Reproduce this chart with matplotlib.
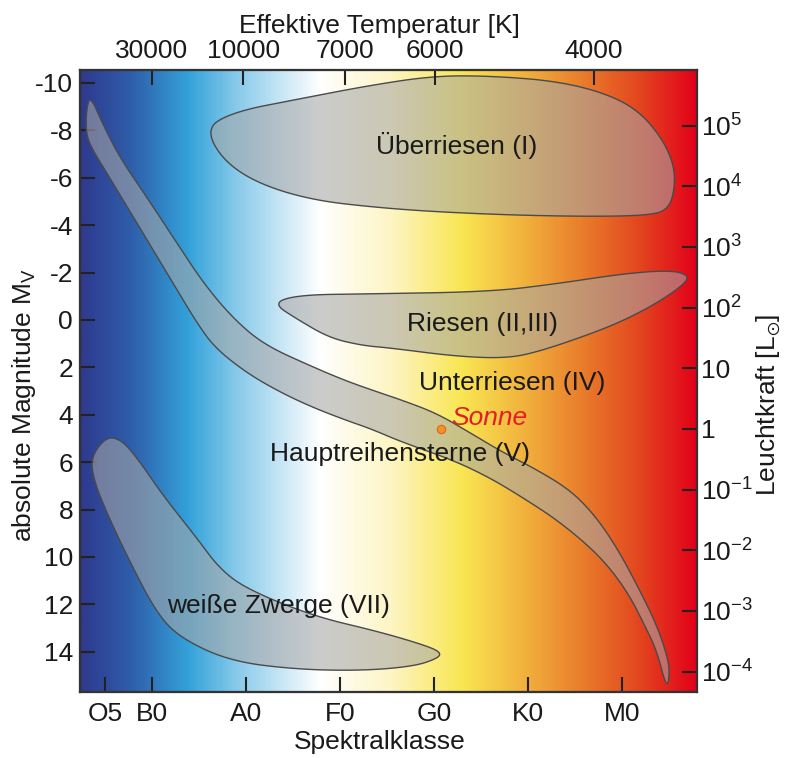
import numpy as np
import matplotlib
matplotlib.use("Agg")
import matplotlib.pyplot as plt
from matplotlib.colors import LinearSegmentedColormap

plt.rcParams['font.family'] = ['Liberation Sans', 'DejaVu Sans']
plt.rcParams['mathtext.fontset'] = 'custom'
plt.rcParams['mathtext.rm'] = 'Liberation Sans'
plt.rcParams['mathtext.it'] = 'Liberation Sans:italic'
plt.rcParams['mathtext.default'] = 'regular'
plt.rcParams['axes.unicode_minus'] = False

# --- Achsen / Beschriftungen ---
# Spektralklasse als x-Koordinate: B0=0, A0=1, F0=2, ...
spec_labels = ["O5", "B0", "A0", "F0", "G0", "K0", "M0"]
spec_pos = [-0.5, 0, 1, 2, 3, 4, 5]
temp_labels = ["30000", "10000", "7000", "6000", "4000"]
temp_pos = [0.0, 0.97, 2.05, 3.01, 4.70]
mag_ticks = [-10, -8, -6, -4, -2, 0, 2, 4, 6, 8, 10, 12, 14]
lum_exp = [5, 4, 3, 2, 1, 0, -1, -2, -3, -4]
M_SUN = 4.6
MAG_PER_DEX = 2.56
X_LIM = (-0.766, 5.80)
Y_LIM = (15.7, -10.55)

# Hintergrund-Farbverlauf (Position in Spektralkoordinate, Farbe)
grad_pos = [-0.766, -0.23, 0.38, 0.88, 1.78, 2.53, 3.30, 3.98, 4.64, 5.19, 5.80]
grad_col = ["#2e3a8e", "#2f5eaa", "#33a2da", "#86c9ea", "#ffffff", "#fdf5c5",
            "#f9e652", "#f1b03c", "#e8782a", "#e3461f", "#e2001a"]

# --- Umrisse der Leuchtkraftklassen (Spektralkoordinate, M_V) ---
ueberriesen_s = [0.55, 0.86, 1.57, 2.29, 2.99, 3.60, 4.31, 4.84, 5.19, 5.44, 5.56, 5.56,
                 5.50, 5.33, 4.66, 3.60, 2.53, 1.57, 0.86]
ueberriesen_m = [-8.02, -8.78, -9.33, -9.88, -10.3, -10.3, -10.08, -9.55, -8.8, -7.59,
                 -6.46, -5.49, -4.72, -4.42, -4.36, -4.45, -4.68, -5.12, -6.25]

riesen_s = [1.28, 1.57, 2.29, 3.60, 4.31, 5.01, 5.51, 5.71, 5.67, 5.37, 5.01, 4.66, 4.13,
            3.78, 3.24, 2.53, 2.24, 1.89, 1.55]
riesen_m = [-0.72, -1.06, -1.10, -1.19, -1.53, -1.95, -2.10, -1.90, -1.52, -0.70, 0.04, 0.60,
            1.32, 1.62, 1.54, 1.18, 1.08, 0.76, -0.02]

# Hauptreihe: obere Kante (links oben -> rechts unten), dann untere Kante zurueck
haupt_s = [-0.66, -0.52, -0.34, -0.05, 0.245, 0.56, 0.88, 1.20, 1.71, 2.07, 2.43, 2.67,
           3.03, 3.38, 3.73, 4.10, 4.45, 4.71, 4.95, 5.19, 5.37, 5.48, 5.51, 5.48,
           5.37, 5.24, 5.09, 4.89, 4.66, 4.31, 3.95, 3.60, 3.20, 2.67, 2.32, 2.07,
           1.71, 1.36, 1.01, 0.67, 0.48, 0.30, 0.12, -0.23, -0.48, -0.63, -0.70, -0.70]
haupt_m = [-9.50, -8.23, -6.84, -5.15, -3.37, -1.48, 0.0, 1.06, 1.98, 2.58, 3.08, 3.40,
           3.94, 4.75, 5.58, 6.33, 7.18, 8.23, 9.62, 11.40, 12.87, 14.14, 14.86, 15.60,
           13.93, 12.87, 11.69, 10.55, 9.58, 8.44, 7.51, 6.67, 5.91, 5.17, 4.58, 4.24,
           3.69, 3.04, 2.24, 1.18, 0.13, -1.05, -2.24, -4.55, -6.20, -7.17, -7.81, -8.78]

zwerge_s = [-0.48, -0.65, -0.62, -0.48, -0.23, 0.05, 0.30, 0.83, 1.54, 2.24, 2.78, 3.03,
            3.08, 2.93, 2.43, 1.71, 1.01, 0.72, 0.48, 0.12, -0.13, -0.31]
zwerge_m = [4.90, 5.78, 6.75, 8.15, 10.25, 12.37, 13.42, 14.40, 14.75, 14.80, 14.62, 14.30,
            14.05, 13.76, 13.17, 12.49, 11.36, 10.50, 9.22, 7.42, 5.98, 5.10]

# Beschriftungen der Bereiche
region_text = ["Überriesen (I)", "Riesen (II,III)", "Unterriesen (IV)",
               "Hauptreihensterne (V)", "weiße Zwerge (VII)"]
region_s = [3.245, 3.52, 3.83, 2.64, 1.35]
region_m = [-7.38, 0.17, 2.66, 5.66, 12.07]

sun_s, sun_m = 3.08, 4.61


def smooth_closed(xs, ys, iters=5):
    # Chaikin-Eckenabschneiden fuer einen geschlossenen Umriss
    p = np.column_stack([xs, ys]).astype(float)
    for _ in range(iters):
        q = np.roll(p, -1, axis=0)
        p = np.column_stack([0.75 * p + 0.25 * q, 0.25 * p + 0.75 * q]).reshape(-1, 2)
    return p


fig = plt.figure(figsize=(7.85, 7.58), dpi=100)
ax = fig.add_axes([0.1019, 0.0871, 0.786, 0.8206])

# --- Hintergrund ---
norm_pos = [(v - X_LIM[0]) / (X_LIM[1] - X_LIM[0]) for v in grad_pos]
cmap = LinearSegmentedColormap.from_list("hr", list(zip(norm_pos, grad_col)))
ax.imshow(np.linspace(0, 1, 800)[None, :], cmap=cmap, aspect="auto",
          extent=[X_LIM[0], X_LIM[1], Y_LIM[0], Y_LIM[1]], zorder=0,
          interpolation="bilinear")

# --- Bereiche ---
for xs, ys in [(ueberriesen_s, ueberriesen_m), (riesen_s, riesen_m),
               (haupt_s, haupt_m), (zwerge_s, zwerge_m)]:
    pts = smooth_closed(xs, ys)
    ax.fill(pts[:, 0], pts[:, 1], facecolor=(0.655, 0.655, 0.655, 0.575),
            edgecolor="#4a4a4a", linewidth=1.0, zorder=2)

for txt, s, m in zip(region_text, region_s, region_m):
    ax.text(s, m, txt, fontsize=19, color="#1a1a1a", ha="center", va="center", zorder=4)

ax.plot(sun_s, sun_m, "o", ms=6, mfc="#f39325", mec="#e0661c", mew=0.8, zorder=5)
ax.text(3.59, 4.14, "Sonne", fontsize=19, color="#e51e25", style="italic",
        ha="center", va="center", zorder=4)

ax.set_xlim(X_LIM)
ax.set_ylim(Y_LIM)

tick_kw = dict(direction="in", length=11, width=1.5, color="#222222", labelsize=19,
               labelcolor="#1a1a1a")
ax.set_xticks(spec_pos)
ax.set_xticklabels(spec_labels)
ax.set_yticks(mag_ticks)
ax.set_yticklabels([str(v) for v in mag_ticks])
ax.tick_params(axis="x", pad=7, **tick_kw)
ax.tick_params(axis="y", pad=5, **tick_kw)
ax.set_xlabel("Spektralklasse", fontsize=19, color="#1a1a1a")
ax.set_ylabel("absolute Magnitude M$_\\mathrm{V}$", fontsize=19, color="#1a1a1a")
ax.xaxis.set_label_coords(0.485, -0.061)
ax.yaxis.set_label_coords(-0.068, 0.461)

# obere Achse: Temperatur
axt = ax.twiny()
axt.set_xlim(X_LIM)
axt.set_xticks(temp_pos)
axt.set_xticklabels(temp_labels)
axt.tick_params(axis="x", pad=5, **tick_kw)
axt.set_xlabel("Effektive Temperatur [K]", fontsize=19, color="#1a1a1a")
axt.xaxis.set_label_coords(0.485, 1.06)

# rechte Achse: Leuchtkraft
axr = ax.twinx()
axr.set_ylim(Y_LIM)
lum_mag = [M_SUN - MAG_PER_DEX * e for e in lum_exp]
lum_lab = ["10$^{%d}$" % e if e not in (0, 1) else ("10" if e == 1 else "1") for e in lum_exp]
axr.set_yticks(lum_mag)
axr.set_yticklabels(lum_lab)
axr.tick_params(axis="y", pad=3, **tick_kw)
axr.set_ylabel("Leuchtkraft [L$_{\\odot}$]", fontsize=19, color="#1a1a1a")
axr.yaxis.set_label_coords(1.094, 0.461)

for a in (ax, axt, axr):
    for sp in a.spines.values():
        sp.set_color("#333333")
        sp.set_linewidth(1.5)
        sp.set_zorder(6)

fig.savefig("out.png", dpi=100)
